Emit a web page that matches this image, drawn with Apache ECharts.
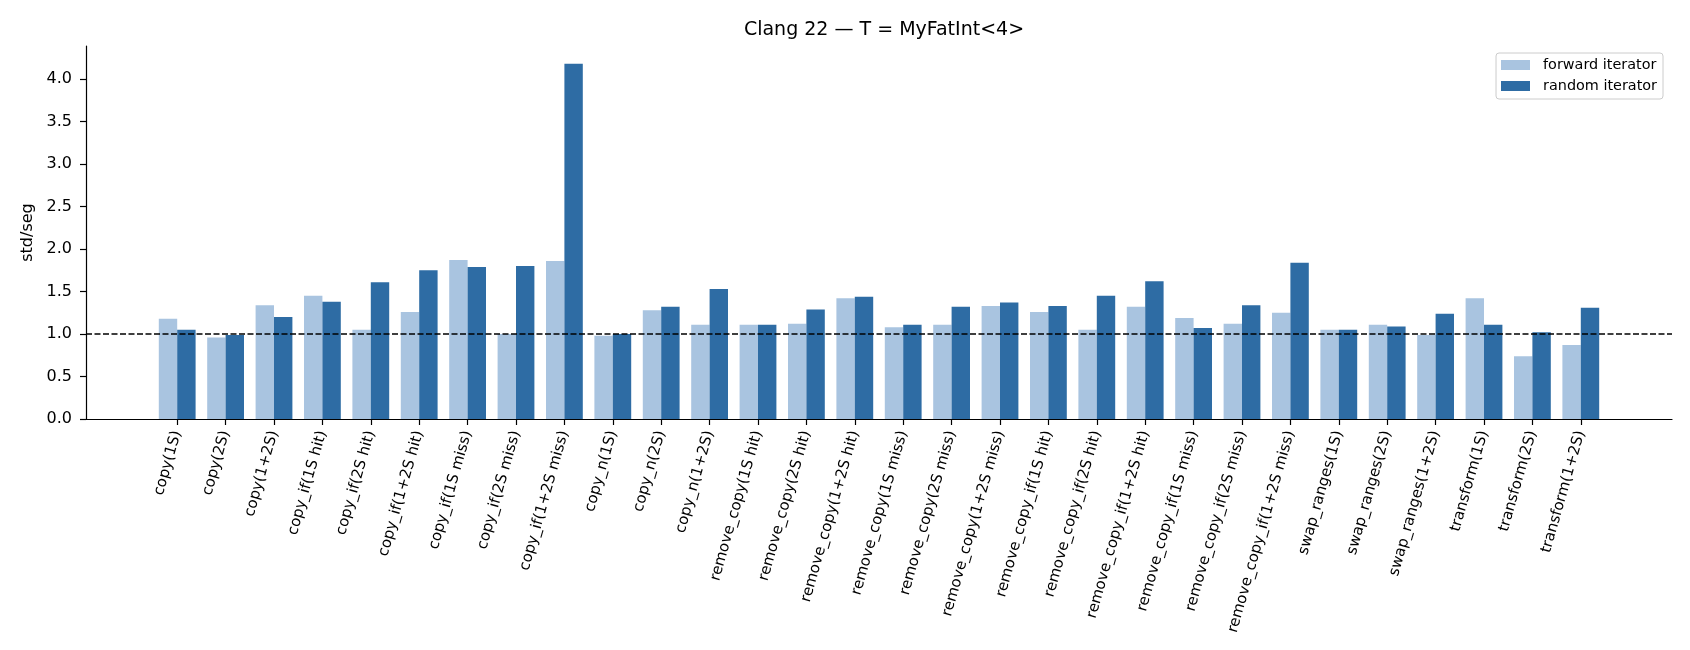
<!DOCTYPE html>
<html>
<head>
<meta charset="utf-8">
<script src="https://cdn.jsdelivr.net/npm/echarts@6/dist/echarts.min.js"></script>
<style>
html, body {margin: 0; padding: 0; background: #fff;}
#chart {width: 1690px; height: 650px;}
</style>
</head>
<body>
<div id="chart"></div>
<script>
// benchmark names, one per group
var categories = [
    'copy(1S)', 'copy(2S)', 'copy(1+2S)',
    'copy_if(1S hit)', 'copy_if(2S hit)', 'copy_if(1+2S hit)',
    'copy_if(1S miss)', 'copy_if(2S miss)', 'copy_if(1+2S miss)',
    'copy_n(1S)', 'copy_n(2S)', 'copy_n(1+2S)',
    'remove_copy(1S hit)', 'remove_copy(2S hit)', 'remove_copy(1+2S hit)',
    'remove_copy(1S miss)', 'remove_copy(2S miss)', 'remove_copy(1+2S miss)',
    'remove_copy_if(1S hit)', 'remove_copy_if(2S hit)', 'remove_copy_if(1+2S hit)',
    'remove_copy_if(1S miss)', 'remove_copy_if(2S miss)', 'remove_copy_if(1+2S miss)',
    'swap_ranges(1S)', 'swap_ranges(2S)', 'swap_ranges(1+2S)',
    'transform(1S)', 'transform(2S)', 'transform(1+2S)'
];
var forwardIt = [
    1.18, 0.96, 1.34, 1.45, 1.05, 1.26, 1.87, 1.00, 1.86, 0.98,
    1.28, 1.11, 1.11, 1.12, 1.42, 1.08, 1.11, 1.33, 1.26, 1.05,
    1.32, 1.19, 1.12, 1.25, 1.05, 1.11, 0.99, 1.42, 0.74, 0.87
];
var randomIt = [
    1.05, 0.99, 1.20, 1.38, 1.61, 1.75, 1.79, 1.80, 4.18, 1.00,
    1.32, 1.53, 1.11, 1.29, 1.44, 1.11, 1.32, 1.37, 1.33, 1.45,
    1.62, 1.07, 1.34, 1.84, 1.05, 1.09, 1.24, 1.11, 1.02, 1.31
];
var yTicks = [0, 0.5, 1.0, 1.5, 2.0, 2.5, 3.0, 3.5, 4.0];
var baseline = 1.0;
var yMax = 4.39;

var font = 'DejaVu Sans';
var chart = echarts.init(document.getElementById('chart'));

var option = {
    animation: false,
    backgroundColor: '#fff',
    textStyle: {fontFamily: font, color: '#000'},
    title: {
        text: 'Clang 22 \u2014 T = MyFatInt<4>',
        left: 879, top: 16, textAlign: 'center',
        textStyle: {fontFamily: font, fontSize: 19, fontWeight: 'normal', color: '#000'}
    },
    legend: {
        data: ['forward iterator', 'random iterator'],
        orient: 'vertical',
        right: 27, top: 53,
        padding: [5, 6, 6, 5],
        itemWidth: 29, itemHeight: 10, itemGap: 7,
        icon: 'rect',
        borderColor: '#cccccc', borderWidth: 1, borderRadius: 3,
        backgroundColor: 'rgba(255,255,255,0.8)',
        textStyle: {fontFamily: font, fontSize: 14.4, lineHeight: 14, color: '#000', padding: [0, 0, 0, 8]}
    },
    grid: [
        // full axes box
        {left: 86, right: 18, top: 46, bottom: 231},
        // inner box holding the category bands (matplotlib x margins)
        {left: 153, right: 85, top: 46, bottom: 231}
    ],
    xAxis: [
        {
            gridIndex: 0, type: 'value', min: 0, max: 1,
            axisLine: {show: true, lineStyle: {color: '#000', width: 1.2}},
            axisTick: {show: false}, axisLabel: {show: false}, splitLine: {show: false}
        },
        {
            gridIndex: 1, type: 'category', data: categories,
            axisLine: {show: false},
            axisTick: {show: true, alignWithLabel: true, length: 6, lineStyle: {color: '#000', width: 1.2}},
            axisLabel: {interval: 0, rotate: 74, margin: 12, fontFamily: font, fontSize: 15, color: '#000'},
            splitLine: {show: false}
        }
    ],
    yAxis: [
        {
            gridIndex: 0, type: 'value', min: 0, max: yMax,
            name: 'std/seg', nameLocation: 'middle', nameGap: 50,
            nameTextStyle: {fontFamily: font, fontSize: 16, color: '#000'},
            axisLine: {show: true, lineStyle: {color: '#000', width: 1.2}},
            axisTick: {show: true, length: 6, customValues: yTicks, lineStyle: {color: '#000', width: 1.2}},
            axisLabel: {
                customValues: yTicks, margin: 14, fontFamily: font, fontSize: 16, color: '#000',
                formatter: function (v) { return v.toFixed(1); }
            },
            splitLine: {show: false}
        },
        {gridIndex: 1, type: 'value', min: 0, max: yMax, show: false, splitLine: {show: false}}
    ],
    series: [
        {
            name: 'forward iterator', type: 'bar', xAxisIndex: 1, yAxisIndex: 1,
            data: forwardIt, barWidth: 18.4, barGap: '0%',
            itemStyle: {color: '#a9c4e0'}
        },
        {
            name: 'random iterator', type: 'bar', xAxisIndex: 1, yAxisIndex: 1,
            data: randomIt, barWidth: 18.4, barGap: '0%',
            itemStyle: {color: '#2e6ca4'}
        },
        {
            // dashed reference line across the whole axes
            type: 'line', xAxisIndex: 0, yAxisIndex: 0,
            data: [[0, baseline], [1, baseline]],
            symbol: 'none', silent: true, z: 5,
            lineStyle: {color: '#000', width: 1.4, type: [6, 2.5]}
        }
    ]
};
chart.setOption(option);
</script>
</body>
</html>
